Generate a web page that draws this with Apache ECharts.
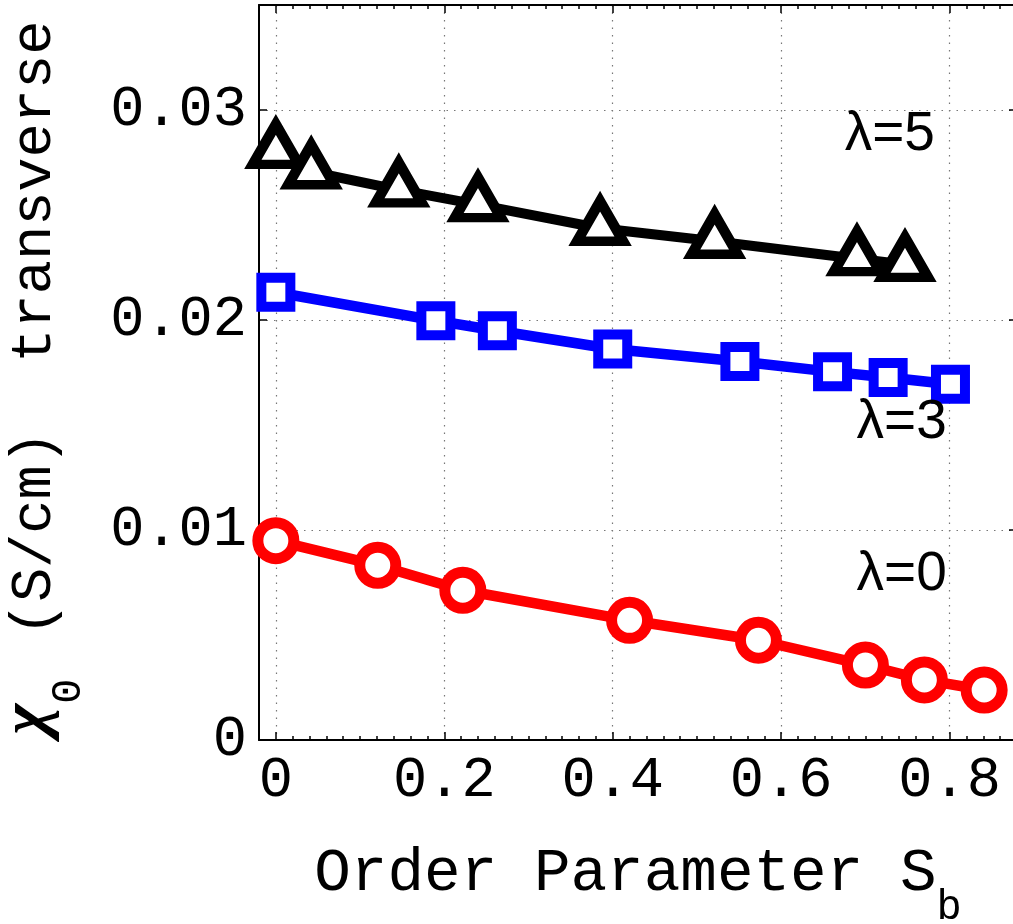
<!DOCTYPE html>
<html>
<head>
<meta charset="utf-8">
<script src="https://cdn.jsdelivr.net/npm/echarts@6/dist/echarts.min.js"></script>
<style>
    html, body { margin: 0; padding: 0; background: #fff; }
    #chart { width: 1013px; height: 924px; }
</style>
</head>
<body>
<div id="chart"></div>
<script>
// order parameter S_b (x) and transverse conductivity chi_0 in S/cm (y)
const sbLambda0 = [0, 0.121, 0.222, 0.420, 0.573, 0.700, 0.770, 0.841];
const chiLambda0 = [0.00949, 0.00832, 0.00713, 0.00570, 0.00475, 0.00357, 0.00286, 0.00238];

const sbLambda3 = [0, 0.190, 0.263, 0.400, 0.551, 0.661, 0.727, 0.801];
const chiLambda3 = [0.02132, 0.01997, 0.01949, 0.01862, 0.01802, 0.01753, 0.01726, 0.01694];

const sbLambda5 = [0, 0.042, 0.146, 0.240, 0.385, 0.521, 0.690, 0.747];
const chiLambda5 = [0.02803, 0.02706, 0.02620, 0.02549, 0.02437, 0.02375, 0.02292, 0.02265];

// in-plot annotations, anchored in data coordinates
const noteText = ["λ=5", "λ=3", "λ=0"];
const noteSb = [0.729, 0.743, 0.743];
const noteChi = [0.0288, 0.0151, 0.00786];

const xMajorTicks = [0, 0.2, 0.4, 0.6, 0.8];
const yMajorTicks = [0, 0.01, 0.02, 0.03];
const xMinorTicks = [];
for (let i = 0; i <= 44; i++) xMinorTicks.push(+(i * 0.02).toFixed(2));

const X_MIN = -0.02, X_MAX = 0.88;
const Y_MIN = 0, Y_MAX = 0.035;

const mono = "'Courier New', 'Liberation Mono', monospace";
const pairs = (xs, ys) => xs.map((x, i) => [x, ys[i]]);

// axis titles: main text plus a lowered subscript (padding pushes it down the line)
const xTitleRich = {
    txt: { fontFamily: mono, fontSize: 61, lineHeight: 60, padding: [10, 0, 0, 0], verticalAlign: "top", color: "#000" },
    sub: { fontFamily: mono, fontSize: 42, lineHeight: 42, padding: [54, 0, 0, 0], verticalAlign: "top", color: "#000" },
};
const yTitleRich = {
    chi: { fontFamily: "'Liberation Serif', serif", fontStyle: "italic", fontWeight: "bold", fontSize: 66, lineHeight: 80, padding: [1, 0, 0, 0], verticalAlign: "top", color: "#000" },
    sub: { fontFamily: mono, fontSize: 42, lineHeight: 42, padding: [54, 0, 0, 0], verticalAlign: "top", color: "#000" },
    txt: { fontFamily: mono, fontSize: 57, lineHeight: 60, padding: [12.5, 10, 0, 8], verticalAlign: "top", color: "#000" },
};

const gridDots = { show: true, lineStyle: { color: "#777", width: 1.2, type: [1.5, 6] } };
const tickFont = { color: "#000", fontFamily: mono, fontSize: 57 };

function xAxisOf(position, ticks, tickLen, extra) {
    return Object.assign({
        type: "value", position, min: X_MIN, max: X_MAX,
        axisLine: { show: false, onZero: false },
        axisTick: { show: true, inside: true, length: tickLen, customValues: ticks, lineStyle: { color: "#000", width: 1.5 } },
        axisLabel: { show: false },
        splitLine: { show: false },
    }, extra || {});
}

function yAxisOf(position, extra) {
    return Object.assign({
        type: "value", position, min: Y_MIN, max: Y_MAX,
        axisLine: { show: true, onZero: false, lineStyle: { color: "#000", width: 2 } },
        axisTick: { show: true, inside: true, length: 8, customValues: yMajorTicks, lineStyle: { color: "#000", width: 1.5 } },
        axisLabel: { show: false },
        splitLine: { show: false },
    }, extra || {});
}

const chart = echarts.init(document.getElementById("chart"), null, { renderer: "canvas" });

chart.setOption({
    animation: false,
    backgroundColor: "#fff",
    grid: { left: 259, top: 5, width: 758, height: 735, containLabel: false, outerBoundsMode: "none" },
    xAxis: [
        xAxisOf("bottom", xMajorTicks, 8, {
            axisLine: { show: true, onZero: false, lineStyle: { color: "#000", width: 2 } },
            axisLabel: Object.assign({
                show: true, customValues: xMajorTicks, margin: 12,
                alignMinLabel: "center", alignMaxLabel: "center",
                formatter: (v) => (v === 0 ? "0" : v.toFixed(1)),
            }, tickFont),
            splitLine: gridDots,
            name: "{txt|Order Parameter S}{sub|b}",
            nameLocation: "middle",
            nameGap: 93,
            nameTextStyle: { rich: xTitleRich },
        }),
        xAxisOf("bottom", xMinorTicks, 4),
        xAxisOf("top", xMajorTicks, 8, {
            axisLine: { show: true, onZero: false, lineStyle: { color: "#000", width: 2 } },
        }),
        xAxisOf("top", xMinorTicks, 4),
    ],
    yAxis: [
        yAxisOf("left", {
            axisLabel: Object.assign({
                show: true, customValues: yMajorTicks, margin: 12,
                verticalAlignMinLabel: "middle", verticalAlignMaxLabel: "middle",
                formatter: (v) => (v === 0 ? "0" : v.toFixed(2)),
            }, tickFont),
            splitLine: gridDots,
            name: "{chi|χ}{sub|0}{txt| (S/cm)  transverse}",
            nameLocation: "middle",
            nameRotate: 90,
            nameGap: 185,
            nameTextStyle: { rich: yTitleRich },
        }),
        yAxisOf("right"),
    ],
    series: [
        {
            name: "λ=0", type: "line", data: pairs(sbLambda0, chiLambda0),
            lineStyle: { color: "#ff0000", width: 10.5 },
            symbol: "circle", symbolSize: 36,
            itemStyle: { color: "#fff", borderColor: "#ff0000", borderWidth: 11 },
            z: 3,
        },
        {
            name: "λ=3", type: "line", data: pairs(sbLambda3, chiLambda3),
            lineStyle: { color: "#0000ff", width: 10.5 },
            symbol: "rect", symbolSize: 29,
            itemStyle: { color: "#fff", borderColor: "#0000ff", borderWidth: 10 },
            z: 3,
        },
        {
            name: "λ=5", type: "line", data: pairs(sbLambda5, chiLambda5),
            lineStyle: { color: "#000", width: 10 },
            // marker centroid sits on the point, like the original triangles
            symbol: "triangle", symbolSize: [46, 40], symbolOffset: [0, -7],
            itemStyle: { color: "#fff", borderColor: "#000", borderWidth: 10, borderJoin: "miter", borderMiterLimit: 10 },
            z: 3,
        },
        {
            type: "scatter", silent: true, z: 4,
            data: pairs(noteSb, noteChi),
            symbolSize: 0,
            itemStyle: { color: "transparent" },
            label: {
                show: true, position: "inside",
                formatter: (p) => noteText[p.dataIndex],
                fontFamily: "'Liberation Sans', Arial, sans-serif",
                fontSize: 55, color: "#000", opacity: 1, textBorderWidth: 0,
            },
        },
    ],
});
</script>
</body>
</html>
